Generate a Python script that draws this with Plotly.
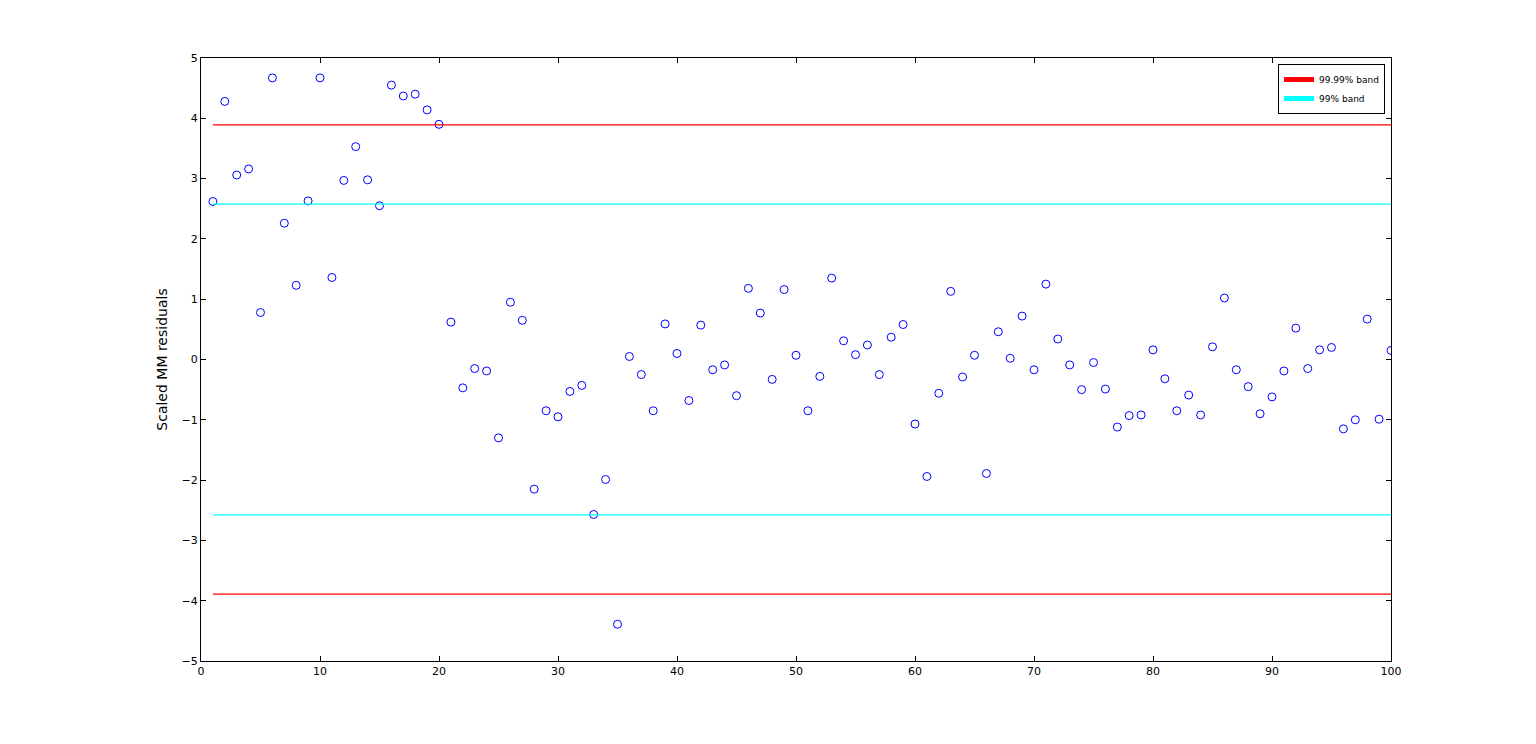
import plotly.graph_objects as go

obs = list(range(1, 101))
resid = [2.62, 4.28, 3.06, 3.16, 0.78, 4.67, 2.26, 1.23, 2.63, 4.67,
         1.36, 2.97, 3.53, 2.98, 2.55, 4.55, 4.37, 4.40, 4.14, 3.90,
         0.62, -0.47, -0.15, -0.19, -1.30, 0.95, 0.65, -2.15, -0.85, -0.95,
         -0.53, -0.43, -2.57, -1.99, -4.39, 0.05, -0.25, -0.85, 0.59, 0.10,
         -0.68, 0.57, -0.17, -0.09, -0.60, 1.18, 0.77, -0.33, 1.16, 0.07,
         -0.85, -0.28, 1.35, 0.31, 0.08, 0.24, -0.25, 0.37, 0.58, -1.07,
         -1.94, -0.56, 1.13, -0.29, 0.07, -1.89, 0.46, 0.02, 0.72, -0.17,
         1.25, 0.34, -0.09, -0.50, -0.05, -0.49, -1.12, -0.93, -0.92, 0.16,
         -0.32, -0.85, -0.59, -0.92, 0.21, 1.02, -0.17, -0.45, -0.90, -0.62,
         -0.19, 0.52, -0.15, 0.16, 0.20, -1.15, -1.00, 0.67, -0.99, 0.15]
band9999 = 3.89
band99 = 2.576

fig = go.Figure()
fig.add_trace(go.Scatter(x=obs, y=resid, mode='markers', showlegend=False,
                         marker=dict(symbol='circle-open', color='blue', size=8, line=dict(width=1))))
fig.add_trace(go.Scatter(x=[1, 100], y=[band9999, band9999], mode='lines', name='99.99% band',
                         line=dict(color='red', width=1.3)))
fig.add_trace(go.Scatter(x=[1, 100], y=[band99, band99], mode='lines', name='99% band',
                         line=dict(color='cyan', width=1.3)))
fig.add_trace(go.Scatter(x=[1, 100], y=[-band99, -band99], mode='lines', showlegend=False,
                         line=dict(color='cyan', width=1.3)))
fig.add_trace(go.Scatter(x=[1, 100], y=[-band9999, -band9999], mode='lines', showlegend=False,
                         line=dict(color='red', width=1.3)))

ax = dict(showgrid=False, zeroline=False, showline=True, mirror='allticks', linecolor='black',
          ticks='inside', ticklen=5, tickcolor='black', tickfont=dict(size=11, color='black'))
fig.update_layout(
    width=1536, height=744, plot_bgcolor='white', paper_bgcolor='white',
    margin=dict(l=193, r=153, t=50, b=91),
    font=dict(family='DejaVu Sans'),
    xaxis=dict(range=[0, 100], dtick=10, **ax),
    yaxis=dict(range=[-5, 5], dtick=1, title=dict(text='Scaled MM residuals', font=dict(size=14, color='black'), standoff=10), **ax),
    legend=dict(x=0.995, y=0.99, xanchor='right', yanchor='top', bordercolor='black', borderwidth=1,
                bgcolor='white', font=dict(size=9, color='black'), tracegroupgap=0, itemsizing='constant'),
)
fig.write_html("out.html")
